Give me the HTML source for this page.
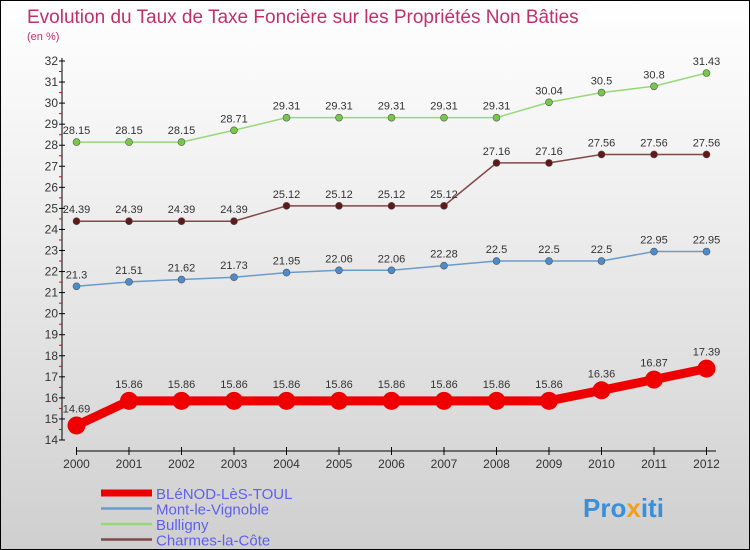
<!DOCTYPE html>
<html><head><meta charset="utf-8"><style>
body{margin:0}
#wrap{position:relative;width:748px;height:548px;border:1px solid #000;background:linear-gradient(#ffffff,#f2f2f2 30%,#cfcfcf);font-family:"Liberation Sans",sans-serif;overflow:hidden}
</style></head><body>
<div id="wrap">
<svg id="svg" width="748" height="548" xmlns="http://www.w3.org/2000/svg">
<text x="26" y="22" font-size="19" fill="#c0306a">Evolution du Taux de Taxe Foncière sur les Propriétés Non Bâties</text>
<text x="26" y="39" font-size="11" fill="#c0306a">(en %)</text>
<g id="axes"></g><g id="series"></g><g id="legend"></g>
<text x="582" y="516" font-size="26" font-weight="bold" fill="#3a8fd8">Pro<tspan fill="#f0a020">x</tspan>iti</text>
</svg></div>
<script>
const years=[2000,2001,2002,2003,2004,2005,2006,2007,2008,2009,2010,2011,2012];
const blenod=[14.69,15.86,15.86,15.86,15.86,15.86,15.86,15.86,15.86,15.86,16.36,16.87,17.39];
const mont=[21.3,21.51,21.62,21.73,21.95,22.06,22.06,22.28,22.5,22.5,22.5,22.95,22.95];
const bulligny=[28.15,28.15,28.15,28.71,29.31,29.31,29.31,29.31,29.31,30.04,30.5,30.8,31.43];
const charmes=[24.39,24.39,24.39,24.39,25.12,25.12,25.12,25.12,27.16,27.16,27.56,27.56,27.56];
const yTicks=[14,15,16,17,18,19,20,21,22,23,24,25,26,27,28,29,30,31,32];
const names=["BLéNOD-LèS-TOUL","Mont-le-Vignoble","Bulligny","Charmes-la-Côte"];
const NS="http://www.w3.org/2000/svg";
const X=i=>75.5+i*52.5;
const Y=v=>439-(v-14)*(379/18);
function mk(t,a,p){const e=document.createElementNS(NS,t);for(const k in a)e.setAttribute(k,a[k]);p.appendChild(e);return e;}
const ax=document.getElementById('axes');
let l=mk('line',{x1:61,y1:57,x2:61,y2:439,stroke:'#000'},ax);


yTicks.forEach(v=>{mk('line',{x1:58,x2:64,y1:Y(v),y2:Y(v),stroke:'#000'},ax);
 if(v<32)mk('line',{x1:58,x2:61,y1:Y(v+0.5),y2:Y(v+0.5),stroke:'#e00'},ax);
 const t=mk('text',{x:57,y:Y(v)+4,'font-size':12,'text-anchor':'end',fill:'#333'},ax);t.textContent=v;
 
 });
l=mk('line',{x1:75,y1:450,x2:715,y2:450,stroke:'#000'},ax);


years.forEach((y,i)=>{mk('line',{x1:X(i),x2:X(i),y1:446,y2:454,stroke:'#000'},ax);
 const t=mk('text',{x:X(i),y:467,'font-size':12,'text-anchor':'middle',fill:'#333'},ax);t.textContent=y;
 
 });
const sg=document.getElementById('series');
const defs=[[mont,'#6a9ccc','#4a8ccc',1.5,3.5,'mont'],[bulligny,'#98d878','#78c848',1.5,3.5,'bulligny'],[charmes,'#804848','#601818',1.5,3.5,'charmes'],[blenod,'#ee0000','#ee0000',9,9,'blenod']];
defs.forEach(([d,lc,pc,w,r,n])=>{
 const pl=mk('polyline',{points:d.map((v,i)=>X(i)+','+Y(v)).join(' '),fill:'none',stroke:lc,'stroke-width':w},sg);
 
 
 d.forEach((v,i)=>{const c=mk('circle',{cx:X(i),cy:Y(v),r:r,fill:pc,stroke:n=='blenod'?'none':'#555','stroke-width':0.6},sg);
  
  
  const t=mk('text',{x:X(i),y:Y(v)-(n=='blenod'?13:8),'font-size':11,'text-anchor':'middle',fill:'#333'},sg);t.textContent=v;
  
  });
});
const lg=document.getElementById('legend');
const lcol=['#ee0000','#6a9ccc','#98d878','#804848'];
names.forEach((nm,i)=>{const y=492+i*15.5;
 const ln=mk('line',{x1:100,x2:151,y1:y,y2:y,stroke:lcol[i],'stroke-width':i==0?7:2.5},lg);
 
 
 const t=mk('text',{x:155,y:y+6,'font-size':15,fill:'#6060ee'},lg);t.textContent=nm;
 
 });
</script>
</body></html>
